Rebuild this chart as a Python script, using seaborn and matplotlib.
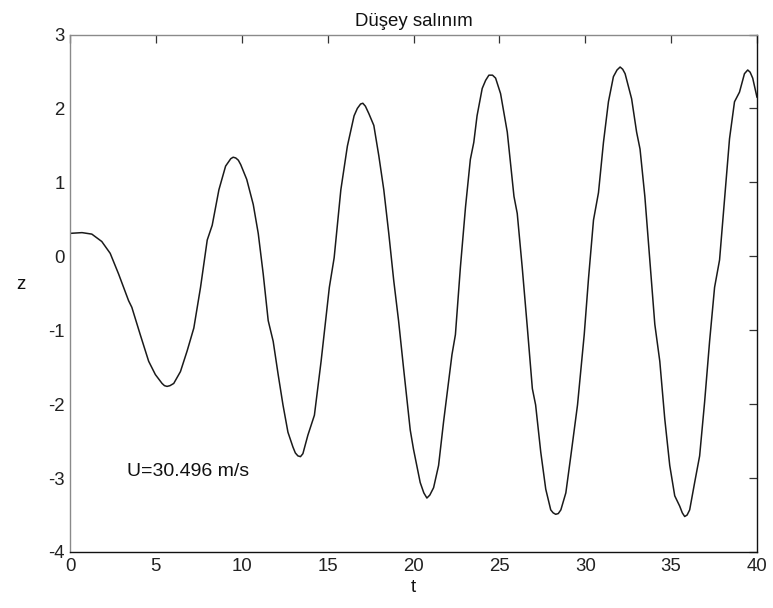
import matplotlib
matplotlib.use("Agg")
import matplotlib.pyplot as plt
import seaborn as sns
import pandas as pd

t_values = [0.0, 0.7, 1.27, 1.85, 2.34, 2.83, 3.41, 3.6, 4.09, 4.58, 4.97, 5.36, 5.5, 5.65,
            5.82, 6.04, 6.43, 6.82, 7.21, 7.6, 7.99, 8.28, 8.67, 9.06, 9.36, 9.5, 9.65,
            9.8, 9.94, 10.29, 10.67, 10.96, 11.25, 11.54, 11.83, 12.12, 12.4, 12.69,
            12.98, 13.12, 13.27, 13.42, 13.56, 13.85, 14.23, 14.62, 15.1, 15.38, 15.77,
            16.15, 16.54, 16.73, 16.92, 17.05, 17.2, 17.4, 17.69, 17.98, 18.27, 18.56,
            18.85, 19.13, 19.42, 19.81, 20.0, 20.39, 20.6, 20.78, 20.95, 21.17, 21.46,
            21.75, 22.05, 22.24, 22.44, 22.73, 23.03, 23.31, 23.51, 23.7, 24.0, 24.2,
            24.39, 24.6, 24.78, 25.07, 25.46, 25.85, 26.04, 26.33, 26.63, 26.92, 27.11,
            27.41, 27.7, 27.99, 28.13, 28.28, 28.43, 28.58, 28.87, 29.16, 29.55, 29.94,
            30.19, 30.48, 30.77, 31.06, 31.35, 31.64, 31.85, 32.03, 32.18, 32.32, 32.7,
            32.99, 33.19, 33.47, 33.76, 34.05, 34.34, 34.63, 34.92, 35.21, 35.5, 35.65,
            35.79, 35.93, 36.08, 36.37, 36.66, 36.95, 37.24, 37.53, 37.82, 38.11, 38.4,
            38.69, 38.98, 39.27, 39.46, 39.6, 39.75, 40.0]
z_values = [0.31, 0.32, 0.30, 0.20, 0.04, -0.24, -0.60, -0.69, -1.06, -1.42, -1.60, -1.72, -1.75, -1.76,
            -1.75, -1.72, -1.56, -1.28, -0.97, -0.42, 0.22, 0.42, 0.90, 1.22, 1.32, 1.34, 1.33,
            1.30, 1.24, 1.04, 0.70, 0.31, -0.24, -0.87, -1.15, -1.60, -2.01, -2.38,
            -2.58, -2.66, -2.70, -2.71, -2.67, -2.42, -2.15, -1.42, -0.42, -0.02, 0.90,
            1.49, 1.90, 2.00, 2.06, 2.07, 2.03, 1.93, 1.77, 1.36, 0.90, 0.31,
            -0.33, -0.87, -1.51, -2.35, -2.61, -3.06, -3.20, -3.27, -3.23, -3.13, -2.83,
            -2.24, -1.69, -1.33, -1.06, -0.15, 0.67, 1.31, 1.54, 1.90, 2.27, 2.38,
            2.45, 2.45, 2.41, 2.20, 1.68, 0.81, 0.58, -0.15, -0.97, -1.79, -2.01,
            -2.65, -3.15, -3.43, -3.47, -3.49, -3.48, -3.43, -3.20, -2.70, -2.01, -1.06,
            -0.30, 0.49, 0.86, 1.54, 2.09, 2.43, 2.52, 2.56, 2.53, 2.47, 2.13,
            1.68, 1.45, 0.81, -0.05, -0.92, -1.42, -2.20, -2.83, -3.24, -3.38, -3.47,
            -3.52, -3.50, -3.43, -3.06, -2.70, -1.97, -1.15, -0.42, -0.05, 0.77, 1.59,
            2.09, 2.22, 2.47, 2.52, 2.49, 2.41, 2.15]

x_ticks = [0, 5, 10, 15, 20, 25, 30, 35, 40]
y_ticks = [-4, -3, -2, -1, 0, 1, 2, 3]
title_text = "Düşey salınım"
x_label = "t"
y_label = "z"
note_text = "U=30.496 m/s"

sns.set_style("white")
plt.rcParams['font.family'] = ['Liberation Sans', 'DejaVu Sans']
FS = 13.4

df = pd.DataFrame({"t": t_values, "z": z_values})

fig = plt.figure(figsize=(7.73, 6.08), dpi=100)
ax = fig.add_axes([70 / 773, 1 - 552 / 608, (757 - 70) / 773, (552 - 34.5) / 608])
sns.lineplot(data=df, x="t", y="z", ax=ax, color="#1a1a1a", linewidth=1.1,
             estimator=None, sort=False)

ax.set_xlim(0, 40)
ax.set_ylim(-4, 3)
ax.set_xticks(x_ticks)
ax.set_yticks(y_ticks)
ax.set_xticklabels([str(v) for v in x_ticks], fontsize=FS, color="#222222")
ax.set_yticklabels([str(v) for v in y_ticks], fontsize=FS, color="#222222")
ax.tick_params(direction="in", length=6, width=0.9, top=True, right=True,
               color="#333333", pad=4)
ax.set_xlabel(x_label, fontsize=FS, color="#111111", labelpad=3)
ax.set_ylabel(y_label, fontsize=FS, color="#111111", rotation=0, labelpad=0)
ax.yaxis.set_label_coords(-0.072, 0.5)
ax.set_title(title_text, fontsize=FS, color="#111111", pad=6)
ax.text(3.3, -2.91, note_text, fontsize=14, color="#111111", ha="left", va="center")

for side in ["left", "top"]:
    ax.spines[side].set_color("#8a8a8a")
    ax.spines[side].set_linewidth(1.0)
for side in ["right", "bottom"]:
    ax.spines[side].set_color("#111111")
    ax.spines[side].set_linewidth(1.0)

fig.savefig("out.png", dpi=100, facecolor="white")
